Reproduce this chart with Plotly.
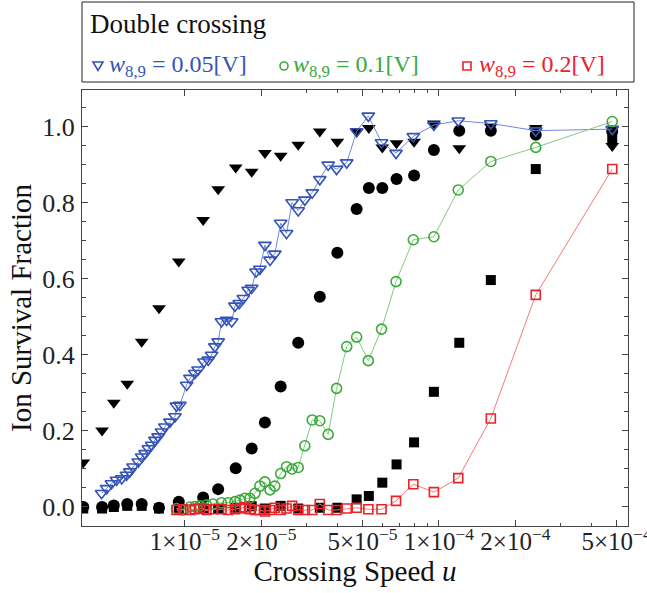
import plotly.graph_objects as go

# Crossing speed values (u) for each data set
u_blue = [4.70e-6, 4.92e-6, 5.14e-6, 5.38e-6, 5.64e-6, 5.89e-6, 6.07e-6, 6.25e-6, 6.55e-6, 6.76e-6,
          6.97e-6, 7.18e-6, 7.40e-6, 7.62e-6, 7.85e-6, 8.09e-6, 8.34e-6, 8.73e-6, 9.14e-6, 9.27e-6,
          9.55e-6, 1.016e-5, 1.047e-5, 1.094e-5, 1.127e-5, 1.189e-5, 1.236e-5, 1.274e-5, 1.312e-5, 1.352e-5,
          1.393e-5, 1.459e-5, 1.528e-5, 1.574e-5, 1.637e-5, 1.698e-5, 1.774e-5, 1.832e-5, 1.905e-5, 1.972e-5,
          2.065e-5, 2.163e-5, 2.259e-5, 2.382e-5, 2.512e-5, 2.642e-5, 2.793e-5, 2.965e-5, 3.170e-5, 3.396e-5,
          3.664e-5, 3.954e-5, 4.335e-5, 4.742e-5, 5.272e-5, 5.943e-5, 6.776e-5, 7.925e-5, 9.550e-5, 1.191e-4,
          1.600e-4, 2.404e-4, 4.808e-4]
f_blue = [0.036, 0.049, 0.062, 0.071, 0.075, 0.084, 0.093, 0.106, 0.119, 0.132,
          0.141, 0.154, 0.163, 0.176, 0.185, 0.198, 0.211, 0.224, 0.238, 0.266,
          0.268, 0.321, 0.339, 0.352, 0.361, 0.382, 0.387, 0.400, 0.422, 0.435,
          0.488, 0.492, 0.488, 0.529, 0.536, 0.549, 0.571, 0.576, 0.619, 0.626,
          0.689, 0.650, 0.666, 0.747, 0.720, 0.801, 0.780, 0.808, 0.827, 0.862,
          0.900, 0.889, 0.906, 0.988, 1.029, 0.959, 0.931, 0.975, 1.005, 1.016,
          1.009, 0.990, 0.994]

u_grid = [9.27e-6, 9.84e-6, 1.047e-5, 1.094e-5, 1.146e-5, 1.216e-5, 1.291e-5, 1.393e-5, 1.479e-5, 1.574e-5,
          1.648e-5, 1.722e-5, 1.803e-5, 1.888e-5, 1.972e-5, 2.065e-5, 2.163e-5, 2.259e-5, 2.382e-5, 2.512e-5,
          2.642e-5, 2.793e-5, 2.965e-5, 3.170e-5, 3.396e-5, 3.664e-5, 3.954e-5, 4.335e-5, 4.742e-5, 5.272e-5,
          5.943e-5, 6.776e-5, 7.925e-5, 9.550e-5, 1.191e-4, 1.600e-4, 2.404e-4, 4.808e-4]
f_green = [-0.004, -0.008, 0.000, 0.001, 0.003, 0.005, 0.008, 0.011, 0.011, 0.014,
           0.018, 0.023, 0.023, 0.036, 0.055, 0.066, 0.045, 0.055, 0.088, 0.106,
           0.100, 0.104, 0.161, 0.229, 0.227, 0.191, 0.312, 0.422, 0.447, 0.385,
           0.468, 0.593, 0.703, 0.711, 0.834, 0.909, 0.946, 1.014]
f_red = [-0.008, -0.006, -0.008, -0.006, -0.004, -0.008, -0.006, -0.006, -0.008, -0.006,
         -0.004, -0.001, -0.006, -0.008, -0.008, -0.012, -0.008, -0.002, -0.008, -0.004,
         0.003, -0.008, -0.008, -0.008, 0.008, -0.008, -0.008, -0.004, -0.002, -0.006,
         -0.006, 0.016, 0.060, 0.039, 0.076, 0.233, 0.558, 0.889]

# Reference data sets drawn in black (no legend entry)
u_black = [3.98e-6, 4.72e-6, 5.25e-6, 5.93e-6, 6.76e-6, 7.91e-6, 9.46e-6, 1.180e-5, 1.352e-5, 1.585e-5,
           1.832e-5, 2.065e-5, 2.382e-5, 2.793e-5, 3.396e-5, 3.981e-5, 4.742e-5, 5.297e-5, 5.984e-5, 6.808e-5,
           7.980e-5, 9.550e-5, 1.202e-4, 1.600e-4, 2.404e-4, 4.808e-4]
f_black_tri = [0.117, 0.201, 0.274, 0.324, 0.435, 0.523, 0.646, 0.755, 0.836, 0.893,
               0.882, 0.931, 0.924, 0.953, 0.988, 0.961, 0.988, 0.997, 0.946, 0.957,
               0.961, 1.009, 0.944, 1.000, 0.997, 0.950]
f_black_circ = [0.000, 0.000, 0.004, 0.008, 0.008, -0.002, 0.014, 0.025, 0.047, 0.102,
                0.154, 0.222, 0.317, 0.432, 0.553, 0.669, 0.784, 0.839, 0.839, 0.863,
                0.872, 0.939, 0.990, 0.990, 0.979, 0.988]
f_black_sq = [-0.004, -0.004, 0.000, 0.003, 0.003, -0.004, -0.004, -0.004, -0.004, -0.002,
              0.002, -0.004, 0.003, -0.004, -0.002, -0.002, 0.020, 0.029, 0.064, 0.112,
              0.170, 0.303, 0.432, 0.597, 0.889, 0.966]

x_tickvals = [1e-5, 2e-5, 5e-5, 1e-4, 2e-4, 5e-4]
x_ticktext = ["1×10<sup>−5</sup>", "2×10<sup>−5</sup>", "5×10<sup>−5</sup>",
              "1×10<sup>−4</sup>", "2×10<sup>−4</sup>", "5×10<sup>−4</sup>"]
x_minor = [3e-5, 4e-5, 6e-5, 7e-5, 8e-5, 9e-5, 3e-4, 4e-4]
y_tickvals = [0, 0.2, 0.4, 0.6, 0.8, 1.0]

legend_title = "Double crossing"
legend_labels = ["<i>w</i><sub>8,9</sub> = 0.05[V]", "<i>w</i><sub>8,9</sub> = 0.1[V]",
                 "<i>w</i><sub>8,9</sub> = 0.2[V]"]

BLUE, GREEN, RED = "#3553b8", "#3aaa3a", "#ec2228"
FONT = "Liberation Serif"

fig = go.Figure()

# black reference sets
fig.add_trace(go.Scatter(x=u_black, y=f_black_sq, mode="markers", showlegend=False,
                         marker=dict(symbol="square", size=10, color="black")))
fig.add_trace(go.Scatter(x=u_black, y=f_black_circ, mode="markers", showlegend=False,
                         marker=dict(symbol="circle", size=12, color="black")))
fig.add_trace(go.Scatter(x=u_black, y=f_black_tri, mode="markers", showlegend=False,
                         marker=dict(symbol="triangle-down", size=12, color="black")))

# coloured sets
series = [
    (u_blue, f_blue, BLUE, "#7088d8", "triangle-down-open", 11),
    (u_grid, f_green, GREEN, "#80cc80", "circle-open", 10),
    (u_grid, f_red, RED, "#f47a7a", "square-open", 9),
]
for (xs, ys, col, lcol, sym, sz), lab in zip(series, legend_labels):
    fig.add_trace(go.Scatter(x=xs, y=ys, mode="lines+markers", name=lab, showlegend=False,
                             line=dict(color=lcol, width=1),
                             marker=dict(symbol=sym, size=sz, color=col, line=dict(width=1.6))))

fig.update_layout(
    xaxis=dict(type="log", range=[-5.405, -3.256],
               showline=True, linecolor="#444", linewidth=1, mirror="allticks",
               ticks="inside", tickcolor="#444", ticklen=6, showgrid=False, zeroline=False,
               tickmode="array", tickvals=x_tickvals, ticktext=x_ticktext,
               tickfont=dict(family=FONT, size=25, color="#222"),
               ticklabeloverflow="allow", ticklabelstandoff=-7,
               minor=dict(tickvals=x_minor, ticklen=3, ticks="inside", tickcolor="#444"),
               title=dict(text="Crossing Speed <i>u</i>",
                          font=dict(family=FONT, size=29, color="#111"), standoff=2)),
    yaxis=dict(range=[-0.05, 1.097],
               showline=True, linecolor="#444", linewidth=1, mirror="allticks",
               ticks="inside", tickcolor="#444", ticklen=6, showgrid=False, zeroline=False,
               tickmode="array", tickvals=y_tickvals, tickformat=".1f",
               tickfont=dict(family=FONT, size=26, color="#222"), ticklabelstandoff=1,
               minor=dict(dtick=0.05, tick0=0, ticklen=4, ticks="inside", tickcolor="#444"),
               title=dict(text="Ion Survival Fraction",
                          font=dict(family=FONT, size=29, color="#111"), standoff=2)),
)

# framed key above the plot area
PW, PH = 546.0, 436.0  # plot area size in px
def px_x(p):
    return (p - 82) / PW
def px_y(p):
    return (526 - p) / PH

shapes = [dict(type="rect", xref="paper", yref="paper", x0=px_x(82), x1=px_x(634),
               y0=px_y(82), y1=px_y(2), line=dict(color="#222", width=1), fillcolor="white",
               layer="above")]
annotations = [dict(text=legend_title, xref="paper", yref="paper", x=px_x(88), y=px_y(24),
                    xanchor="left", yanchor="middle", showarrow=False,
                    font=dict(family=FONT, size=27, color="#111"))]

key_y = px_y(66)
marker_px = [98, 284, 467]
text_px = [107, 291, 477]
colors = [BLUE, GREEN, RED]
for i, (mx, tx, col, lab) in enumerate(zip(marker_px, text_px, colors, legend_labels)):
    common = dict(xref="paper", yref="paper", xsizemode="pixel", ysizemode="pixel",
                  xanchor=px_x(mx), yanchor=key_y, line=dict(color=col, width=1.6), layer="above")
    if i == 0:
        shapes.append(dict(type="path", path="M -5,4 L 5,4 L 0,-4.5 Z", **common))
    elif i == 1:
        shapes.append(dict(type="circle", x0=-4, x1=4, y0=-4, y1=4, **common))
    else:
        shapes.append(dict(type="rect", x0=-4, x1=4, y0=-4, y1=4, **common))
    annotations.append(dict(text=lab, xref="paper", yref="paper", x=px_x(tx), y=key_y,
                            xanchor="left", yanchor="middle", showarrow=False,
                            font=dict(family=FONT, size=24, color=col)))

fig.update_layout(
    width=647, height=593,
    margin=dict(l=82, r=19, t=90, b=67, autoexpand=False),
    paper_bgcolor="white", plot_bgcolor="white",
    font=dict(family=FONT, color="#111"),
    showlegend=False,
    shapes=shapes, annotations=annotations,
)

fig.write_html("out.html")
